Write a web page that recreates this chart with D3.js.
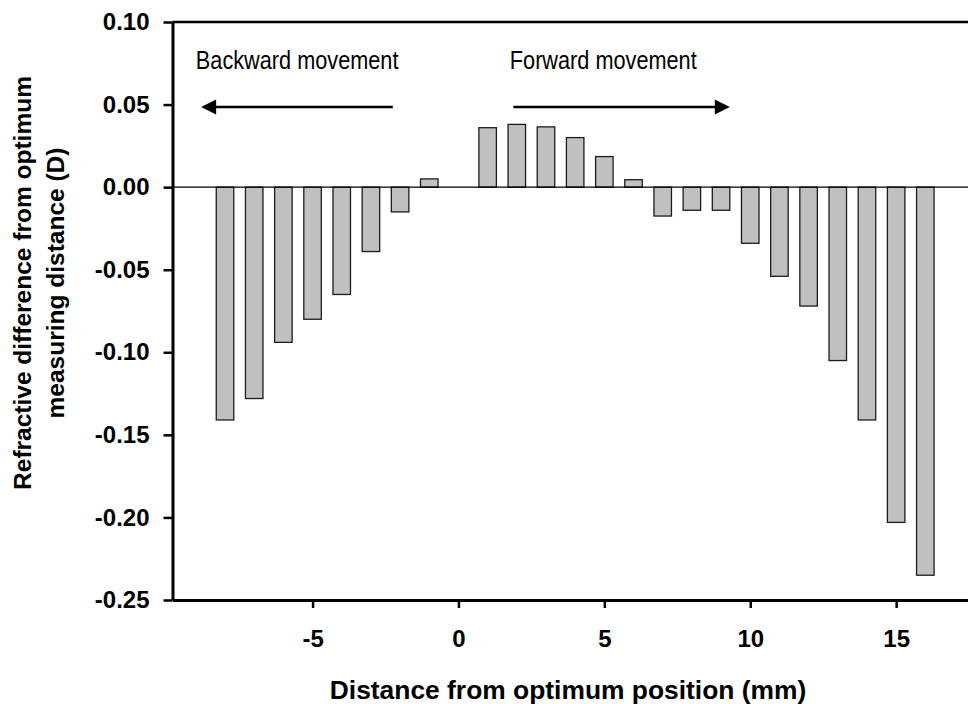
<!DOCTYPE html>
<html>
<head>
<meta charset="utf-8">
<script src="https://cdn.jsdelivr.net/npm/d3@7/dist/d3.min.js"></script>
<style>
  html, body { margin: 0; padding: 0; background: #fff; }
  svg { display: block; }
</style>
</head>
<body>
<svg id="chart" width="968" height="704"></svg>
<script>
// Distance from the optimum measuring position (mm)
const positions = [-8, -7, -6, -5, -4, -3, -2, -1, 1, 2, 3, 4, 5, 6, 7, 8, 9, 10, 11, 12, 13, 14, 15, 16];
// Refractive difference from the optimum measuring distance (D)
const refractiveDiff = [-0.141, -0.128, -0.094, -0.080, -0.065, -0.039, -0.015, 0.005,
                        0.036, 0.038, 0.0365, 0.030, 0.0185, 0.0045, -0.0175, -0.014, -0.014,
                        -0.034, -0.054, -0.072, -0.105, -0.141, -0.203, -0.235];

const xTickValues = [-5, 0, 5, 10, 15];
const xTickLabels = ["-5", "0", "5", "10", "15"];
const yTickValues = [-0.25, -0.20, -0.15, -0.10, -0.05, 0.00, 0.05, 0.10];
const yTickLabels = ["-0.25", "-0.20", "-0.15", "-0.10", "-0.05", "0.00", "0.05", "0.10"];

const xTitle = "Distance from optimum position (mm)";
const yTitleLines = ["Refractive difference from optimum", "measuring distance (D)"];

// Direction annotations (text anchor and arrow in data units)
const annotations = [
  { label: "Backward movement", tx: -9.0, ty: 0.0715, from: -2.25, to: -8.82, ay: 0.0485 },
  { label: "Forward movement",  tx: 1.76, ty: 0.0715, from: 1.88,  to: 9.30,  ay: 0.0485 }
];

const svg = d3.select("#chart");
const boldFont = "'Liberation Sans', Arial, Helvetica, sans-serif";

const x = d3.scaleLinear().domain([-9.8, 17.6]).range([172.5, 972]);
const y = d3.scaleLinear().domain([-0.25, 0.10]).range([600, 22]);
const barW = x(0.3) - x(-0.3);

// Bars
svg.append("g").selectAll("rect")
  .data(positions.map((p, i) => ({ p, v: refractiveDiff[i] })))
  .join("rect")
  .attr("x", d => x(d.p) - barW / 2)
  .attr("y", d => Math.min(y(d.v), y(0)))
  .attr("width", barW)
  .attr("height", d => Math.abs(y(d.v) - y(0)))
  .attr("fill", "#c0c0c0")
  .attr("stroke", "#1c1c1c")
  .attr("stroke-width", 1.3);

// Zero reference line
svg.append("line")
  .attr("x1", x.range()[0]).attr("x2", x.range()[1])
  .attr("y1", y(0)).attr("y2", y(0))
  .attr("stroke", "#000").attr("stroke-width", 1.3);

// Top frame line
svg.append("line")
  .attr("x1", x.range()[0]).attr("x2", x.range()[1])
  .attr("y1", y(0.10)).attr("y2", y(0.10))
  .attr("stroke", "#000").attr("stroke-width", 2.6);

// Y axis
const yAxis = d3.axisLeft(y)
  .tickValues(yTickValues)
  .tickFormat((d, i) => yTickLabels[i])
  .tickSize(9).tickSizeOuter(0).tickPadding(14);
const gy = svg.append("g").attr("transform", `translate(${x.range()[0]},0)`).call(yAxis);
gy.select(".domain").attr("stroke-width", 3);
gy.selectAll(".tick line").attr("stroke-width", 2.5);
gy.selectAll(".tick text")
  .attr("font-family", boldFont).attr("font-weight", "bold")
  .attr("font-size", 24).attr("fill", "#000");

// X axis
const xAxis = d3.axisBottom(x)
  .tickValues(xTickValues)
  .tickFormat((d, i) => xTickLabels[i])
  .tickSize(8).tickSizeOuter(0).tickPadding(22);
const gx = svg.append("g").attr("transform", `translate(0,${y.range()[0]})`).call(xAxis);
gx.select(".domain").attr("stroke-width", 3);
gx.selectAll(".tick line").attr("stroke-width", 2.5);
gx.selectAll(".tick text")
  .attr("font-family", boldFont).attr("font-weight", "bold")
  .attr("font-size", 24).attr("fill", "#000");

// Axis titles
svg.append("text")
  .attr("x", 568).attr("y", 699)
  .attr("text-anchor", "middle")
  .attr("font-family", boldFont).attr("font-weight", "bold")
  .attr("font-size", 26.4).attr("fill", "#000")
  .text(xTitle);

const yTitle = svg.append("text")
  .attr("transform", "translate(0,283) rotate(-90)")
  .attr("text-anchor", "middle")
  .attr("font-family", boldFont).attr("font-weight", "bold")
  .attr("font-size", 24.5).attr("fill", "#000");
yTitle.selectAll("tspan").data(yTitleLines).join("tspan")
  .attr("x", 0).attr("y", (d, i) => 31 + i * 33)
  .text(d => d);

// Direction annotations: condensed regular type, arrow with a solid head
const ann = svg.append("g");
annotations.forEach(a => {
  ann.append("text")
    .attr("transform", `translate(${x(a.tx)},${y(a.ty)}) scale(0.835,1)`)
    .attr("font-family", boldFont)
    .attr("font-size", 26).attr("fill", "#000")
    .text(a.label);
  const dir = Math.sign(a.to - a.from);
  const x0 = x(a.from), x1 = x(a.to), yy = y(a.ay);
  const headLen = 15, headHalf = 7.5;
  ann.append("line")
    .attr("x1", x0).attr("x2", x1 - dir * headLen * 0.6)
    .attr("y1", yy).attr("y2", yy)
    .attr("stroke", "#000").attr("stroke-width", 2.5);
  ann.append("path")
    .attr("d", `M${x1},${yy} L${x1 - dir * headLen},${yy - headHalf} L${x1 - dir * headLen},${yy + headHalf} Z`)
    .attr("fill", "#000");
});
</script>
</body>
</html>
